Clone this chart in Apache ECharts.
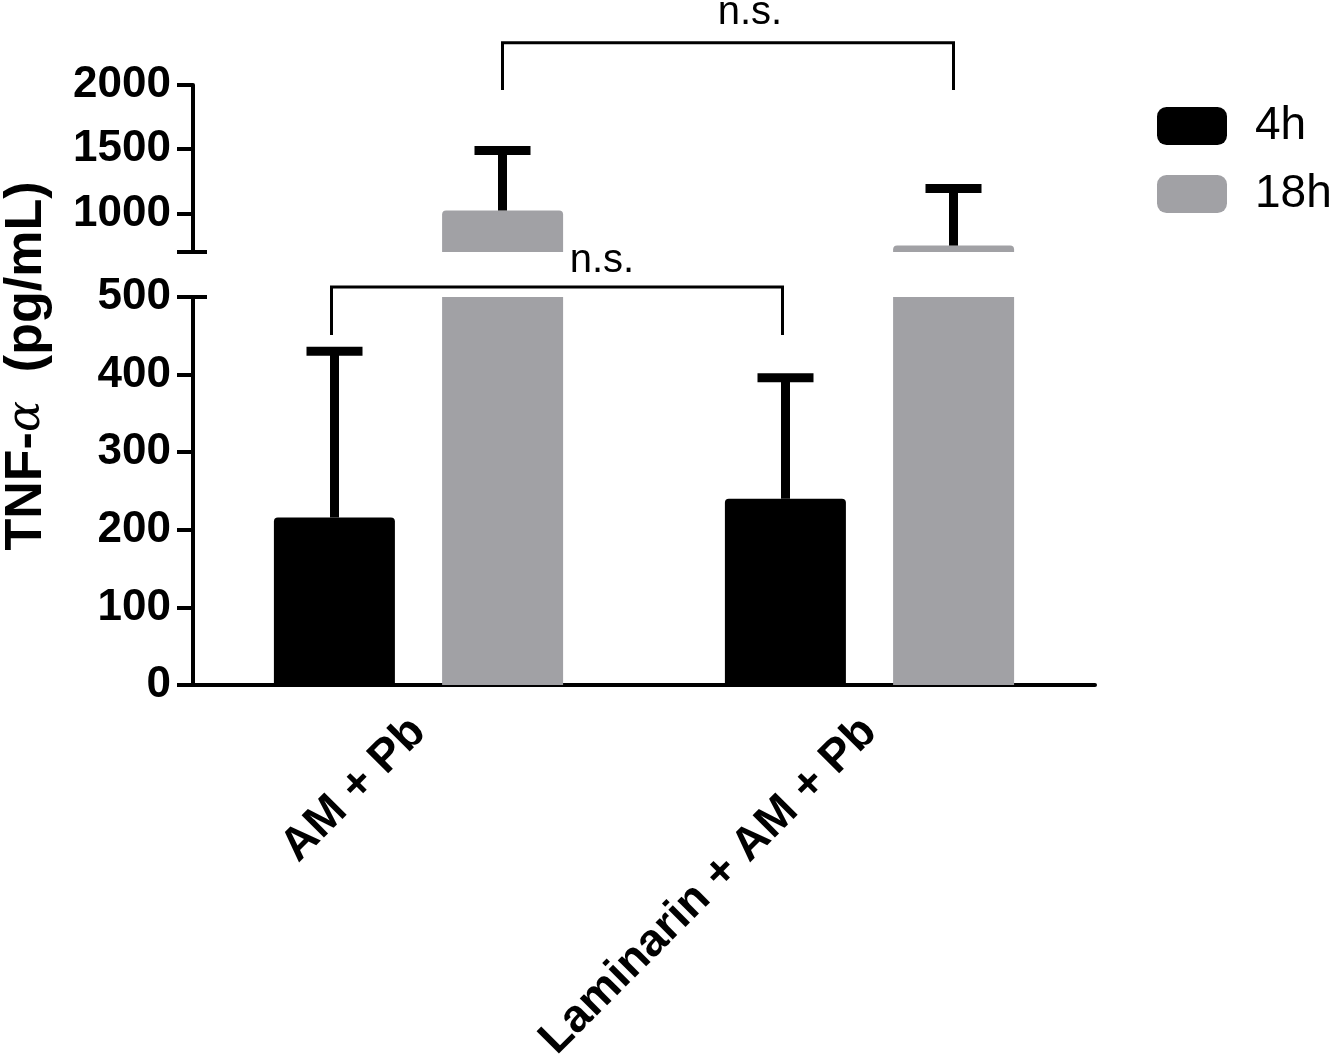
<!DOCTYPE html>
<html>
<head>
<meta charset="utf-8">
<script src="https://cdn.jsdelivr.net/npm/echarts@6/dist/echarts.min.js"></script>
<style>
html,body{margin:0;padding:0;background:#fff;}
#c{width:1336px;height:1055px;}
</style>
</head>
<body>
<div id="c"></div>
<script>
// ---- data ----
const categories = ['AM + Pb', 'Laminarin + AM + Pb'];
const mean4h = [216, 240];
const errTop4h = [430, 396];
const mean18h = [1023, 750];
const errTop18h = [1490, 1195];
const lowerTicks = [0, 100, 200, 300, 400, 500];
const upperTickValues = [700, 1000, 1500, 2000];
const upperLabelValues = [1000, 1500, 2000];
// axis break ends: [category, value]
const breakLower = [[0, 500]];
const breakUpper = [[0, 700]];
// significance brackets: [fromCategory, toCategory, barLevel, dropLevel]
const bracketLower = [[0, 1, 513, 451]];
const bracketUpper = [[0, 1, 2328, 1961]];
const bracketText = 'n.s.';

// ---- styles ----
const FONT = 'Liberation Sans, Arial, Helvetica, sans-serif';
const BLACK = '#000000';
const GRAY = '#a1a1a5';
const BAR_OFFSET = 84;

function errRender(offset) {
  return function (params, api) {
    const i = api.value(0);
    const base = api.coord([i, api.value(1)]);
    const top = api.coord([i, api.value(2)]);
    const x = base[0] + offset;
    return {
      type: 'group',
      children: [
        { type: 'line', shape: { x1: x, y1: base[1], x2: x, y2: top[1] }, style: { stroke: BLACK, lineWidth: 9 } },
        { type: 'line', shape: { x1: x - 28, y1: top[1], x2: x + 28, y2: top[1] }, style: { stroke: BLACK, lineWidth: 9 } }
      ]
    };
  };
}

function breakRender(params, api) {
  const p = api.coord([api.value(0), api.value(1)]);
  const band = api.size([1, 0])[0];
  const x0 = p[0] - band / 2;
  return {
    type: 'group',
    children: [
      { type: 'line', shape: { x1: x0 - 16, y1: p[1], x2: x0 + 14, y2: p[1] }, style: { stroke: BLACK, lineWidth: 4 } }
    ]
  };
}

function bracketRender(offset, textDx, textDy) {
  return function (params, api) {
    const a = api.coord([api.value(0), api.value(2)]);
    const b = api.coord([api.value(1), api.value(2)]);
    const d = api.coord([api.value(0), api.value(3)]);
    const x1 = a[0] + offset, x2 = b[0] + offset;
    const yTop = a[1], yDrop = d[1];
    return {
      type: 'group',
      children: [
        { type: 'polyline', shape: { points: [[x1, yDrop], [x1, yTop], [x2, yTop], [x2, yDrop]] },
          style: { stroke: BLACK, lineWidth: 3, fill: null } },
        { type: 'text', style: { text: bracketText, x: (x1 + x2) / 2 + textDx, y: yTop + textDy,
          align: 'center', verticalAlign: 'bottom', fill: BLACK, font: '40px ' + FONT } }
      ]
    };
  };
}

const labelStyle = { color: BLACK, fontSize: 44, fontWeight: 'bold', fontFamily: FONT };
const plainNumber = v => String(v);

const option = {
  animation: false,
  backgroundColor: '#fff',
  legend: {
    orient: 'vertical',
    left: 1152,
    top: 98,
    itemWidth: 70,
    itemHeight: 38,
    itemGap: 22,
    icon: 'roundRect',
    data: ['4h', '18h'],
    textStyle: { color: BLACK, fontSize: 46, fontFamily: FONT, padding: [0, 0, 0, 23] }
  },
  graphic: [{
    type: 'text',
    x: 27, y: 366, rotation: Math.PI / 2,
    style: {
      text: '{b|TNF-}{a|α}{b|  (pg/mL)}',
      align: 'center', verticalAlign: 'middle', fill: BLACK,
      rich: {
        b: { fontSize: 52, fontWeight: 'bold', fontFamily: FONT, fill: BLACK },
        a: { fontSize: 46, fontStyle: 'italic', fontFamily: 'DejaVu Serif', fill: BLACK }
      }
    }
  }],
  grid: [
    { left: 193, width: 902, top: 297, height: 388, outerBoundsMode: 'none', containLabel: false },
    { left: 193, width: 902, top: 85, height: 167, outerBoundsMode: 'none', containLabel: false }
  ],
  xAxis: [
    {
      type: 'category', gridIndex: 0, data: categories,
      axisLine: { lineStyle: { color: BLACK, width: 4 } },
      axisTick: { alignWithLabel: true, length: 14, lineStyle: { color: BLACK, width: 4 } },
      axisLabel: Object.assign({ rotate: 45, margin: 40, interval: 0 }, labelStyle, { fontSize: 46 }),
      splitLine: { show: false }
    },
    {
      type: 'category', gridIndex: 1, data: categories, show: false
    }
  ],
  yAxis: [
    {
      type: 'value', gridIndex: 0, min: lowerTicks[0], max: lowerTicks[lowerTicks.length - 1], interval: 100,
      axisLine: { show: true, lineStyle: { color: BLACK, width: 4 } },
      axisTick: { show: true, length: 16, lineStyle: { color: BLACK, width: 4 } },
      axisLabel: Object.assign({ margin: 22, formatter: plainNumber }, labelStyle),
      splitLine: { show: false }
    },
    {
      type: 'value', gridIndex: 1, min: upperTickValues[0], max: upperTickValues[upperTickValues.length - 1],
      axisLine: { show: true, lineStyle: { color: BLACK, width: 4 } },
      axisTick: { show: true, length: 16, customValues: upperTickValues, lineStyle: { color: BLACK, width: 4 } },
      axisLabel: Object.assign({ margin: 22, customValues: upperLabelValues, formatter: plainNumber }, labelStyle),
      splitLine: { show: false }
    }
  ],
  series: [
    { name: '4h', type: 'bar', xAxisIndex: 0, yAxisIndex: 0, data: mean4h, barWidth: 121, barGap: '39%',
      itemStyle: { color: BLACK, borderRadius: [4, 4, 0, 0] }, clip: true },
    { name: '18h', type: 'bar', xAxisIndex: 0, yAxisIndex: 0, data: mean18h, barWidth: 121, barGap: '39%',
      itemStyle: { color: GRAY, borderRadius: 0 }, clip: true },
    { name: '4h', type: 'bar', xAxisIndex: 1, yAxisIndex: 1, data: mean4h, barWidth: 121, barGap: '39%',
      itemStyle: { color: BLACK, borderRadius: [4, 4, 0, 0] }, clip: true },
    { name: '18h', type: 'bar', xAxisIndex: 1, yAxisIndex: 1, data: mean18h, barWidth: 121, barGap: '39%',
      itemStyle: { color: GRAY, borderRadius: [4, 4, 0, 0] }, clip: true },
    { type: 'custom', xAxisIndex: 0, yAxisIndex: 0, renderItem: errRender(-BAR_OFFSET), clip: false,
      data: categories.map((c, i) => [i, mean4h[i], errTop4h[i]]), z: 5 },
    { type: 'custom', xAxisIndex: 1, yAxisIndex: 1, renderItem: errRender(BAR_OFFSET), clip: false,
      data: categories.map((c, i) => [i, mean18h[i], errTop18h[i]]), z: 5 },
    { type: 'custom', xAxisIndex: 0, yAxisIndex: 0, renderItem: breakRender, clip: false, data: breakLower, z: 7 },
    { type: 'custom', xAxisIndex: 1, yAxisIndex: 1, renderItem: breakRender, clip: false, data: breakUpper, z: 7 },
    { type: 'custom', xAxisIndex: 0, yAxisIndex: 0, renderItem: bracketRender(-87, 45, -6), clip: false,
      data: bracketLower, z: 6 },
    { type: 'custom', xAxisIndex: 1, yAxisIndex: 1, renderItem: bracketRender(84, 22, -10), clip: false,
      data: bracketUpper, z: 6 }
  ]
};

const chart = echarts.init(document.getElementById('c'), null, { renderer: 'canvas' });
chart.setOption(option);
</script>
</body>
</html>
